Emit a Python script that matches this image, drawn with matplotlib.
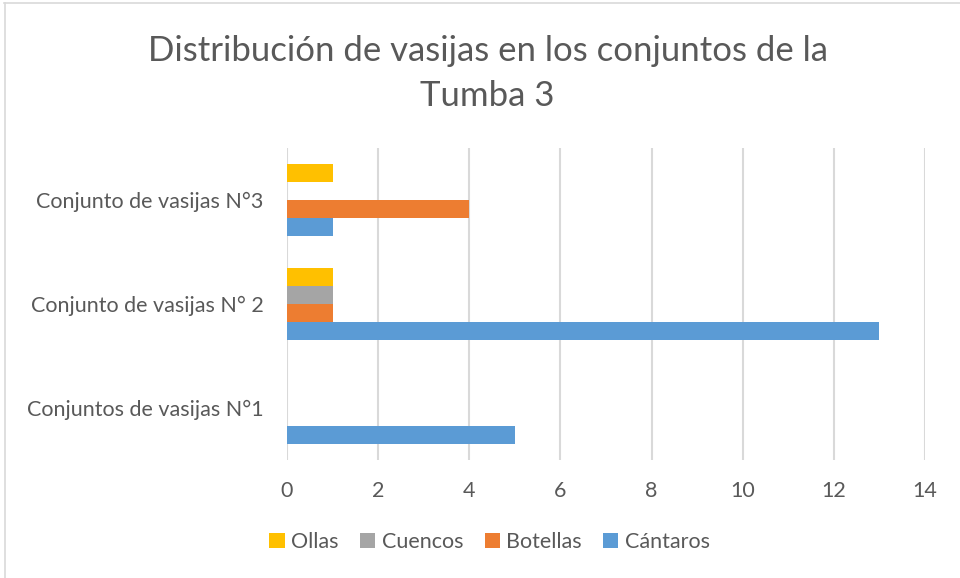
import matplotlib
matplotlib.use('Agg')
import matplotlib.pyplot as plt
import numpy as np

plt.rcParams['font.family'] = ['Lato', 'DejaVu Sans']

categorias = ['Conjuntos de vasijas N°1', 'Conjunto de vasijas N° 2', 'Conjunto de vasijas N°3']
series = ['Cántaros', 'Botellas', 'Cuencos', 'Ollas']
cantaros = [5, 13, 1]
botellas = [0, 1, 4]
cuencos = [0, 1, 0]
ollas = [0, 1, 1]
colores = ['#5B9BD5', '#ED7D31', '#A5A5A5', '#FFC000']
ticks_x = [0, 2, 4, 6, 8, 10, 12, 14]

gris_texto = '#595959'

fig = plt.figure(figsize=(9.6, 5.78), dpi=100)
ax = fig.add_axes([0.299, 0.2042, 0.6646, 0.5398])

y = np.arange(len(categorias))
h = 0.174
valores = [cantaros, botellas, cuencos, ollas]
barras = []
for i, (nombre, vals, col) in enumerate(zip(series, valores, colores)):
    b = ax.barh(y + (i - 1.5) * h, vals, height=h, color=col, label=nombre, zorder=3)
    barras.append(b)

ax.set_ylim(-0.5, 2.5)
ax.set_xlim(0, 14)
ax.set_xticks(ticks_x)
ax.set_yticks(y)
ax.set_yticklabels(categorias)
ax.grid(axis='x', color='#D9D9D9', linewidth=1.5, zorder=0)
for s in ax.spines.values():
    s.set_visible(False)
ax.tick_params(axis='both', length=0, labelsize=15.5, colors=gris_texto)
ax.tick_params(axis='x', pad=15)
ax.tick_params(axis='y', pad=17)

fig.text(0.508, 0.912, 'Distribución de vasijas en los conjuntos de la', ha='center', va='center',
         fontsize=25, color=gris_texto)
fig.text(0.508, 0.834, 'Tumba 3', ha='center', va='center',
         fontsize=25, color=gris_texto)

leg = fig.legend(barras[::-1], series[::-1], loc='center', bbox_to_anchor=(0.51, 0.062), ncol=4,
                 frameon=False, fontsize=15.5, handlelength=0.7, handleheight=0.7,
                 handletextpad=0.3, columnspacing=1.0)
for t in leg.get_texts():
    t.set_color(gris_texto)

# borde del area del grafico (solo arriba e izquierda visibles)
fig.add_artist(plt.Line2D([0.004, 1], [0.995, 0.995], color='#D9D9D9', linewidth=1.2, transform=fig.transFigure))
fig.add_artist(plt.Line2D([0.005, 0.005], [0, 0.995], color='#D9D9D9', linewidth=1.2, transform=fig.transFigure))

plt.savefig('out.png', dpi=100)
